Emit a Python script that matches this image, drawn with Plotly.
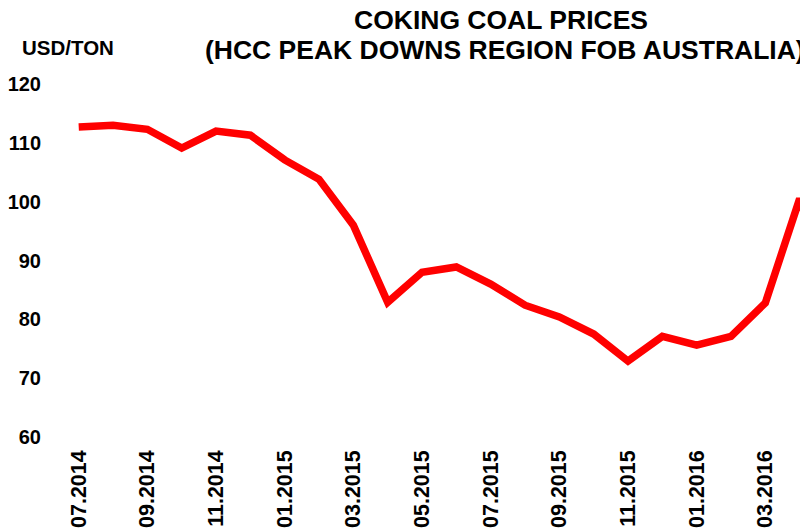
import plotly.graph_objects as go

months = ["07.2014", "08.2014", "09.2014", "10.2014", "11.2014", "12.2014",
          "01.2015", "02.2015", "03.2015", "04.2015", "05.2015", "06.2015",
          "07.2015", "08.2015", "09.2015", "10.2015", "11.2015", "12.2015",
          "01.2016", "02.2016", "03.2016", "04.2016", "05.2016"]
prices = [112.7, 113.0, 112.3, 109.1, 112.0, 111.3,
          107.1, 103.8, 96.0, 82.9, 88.0, 88.9,
          86.0, 82.4, 80.4, 77.5, 72.9, 77.1,
          75.6, 77.1, 82.8, 100.5, 83.0]
tick_labels = months[::2]
y_ticks = [60, 70, 80, 90, 100, 110, 120]

OFF = 8  # page body margin
W, H = 808 - OFF, 532 - OFF
ML, MR, MT, MB = 36 - OFF, 0, 84 - OFF, 532 - 437
x_idx = list(range(len(months)))
X0, DX = 73, 34.6  # page px of first month, px per month

def px_to_paper_x(px):  # px in page coords
    return (px - OFF - ML) / (W - ML - MR)

def px_to_paper_y(py):
    return (H - MB - (py - OFF)) / (H - MT - MB)

fig = go.Figure()
fig.add_trace(go.Scatter(
    x=x_idx, y=prices, mode="lines",
    line=dict(color="#ff0000", width=7.5),
    hoverinfo="skip", showlegend=False,
))

font_b = "Liberation Sans, Arial, sans-serif"

fig.update_layout(
    width=W, height=H,
    margin=dict(l=ML, r=MR, t=MT, b=MB, pad=0),
    paper_bgcolor="white", plot_bgcolor="white",
    xaxis=dict(
        range=[(ML + OFF - X0) / DX, (808 - X0) / DX],
        tickvals=x_idx[::2], ticktext=tick_labels,
        tickangle=-90, showgrid=False, zeroline=False, showline=False,
        ticks="", ticklabelstandoff=8,
        tickfont=dict(family=font_b, size=21.5, color="black", weight="bold"),
    ),
    yaxis=dict(
        range=[60, 120], tickvals=y_ticks,
        showgrid=False, zeroline=False, showline=False, ticks="",
        tickfont=dict(family=font_b, size=20, color="black", weight="bold"),
    ),
)

fig.add_annotation(text="COKING COAL PRICES", xref="paper", yref="paper",
                   x=px_to_paper_x(499), y=px_to_paper_y(20), xanchor="center", yanchor="middle",
                   showarrow=False, font=dict(family=font_b, size=26.5, color="black", weight="bold"))
fig.add_annotation(text="(HCC PEAK DOWNS REGION FOB AUSTRALIA)", xref="paper", yref="paper",
                   x=px_to_paper_x(503), y=px_to_paper_y(49.5), xanchor="center", yanchor="middle",
                   showarrow=False, font=dict(family=font_b, size=26.5, color="black", weight="bold"))
fig.add_annotation(text="USD/TON", xref="paper", yref="paper",
                   x=px_to_paper_x(14), y=px_to_paper_y(48), xanchor="left", yanchor="middle",
                   showarrow=False, font=dict(family=font_b, size=20.5, color="black", weight="bold"))

fig.write_html("out.html")
